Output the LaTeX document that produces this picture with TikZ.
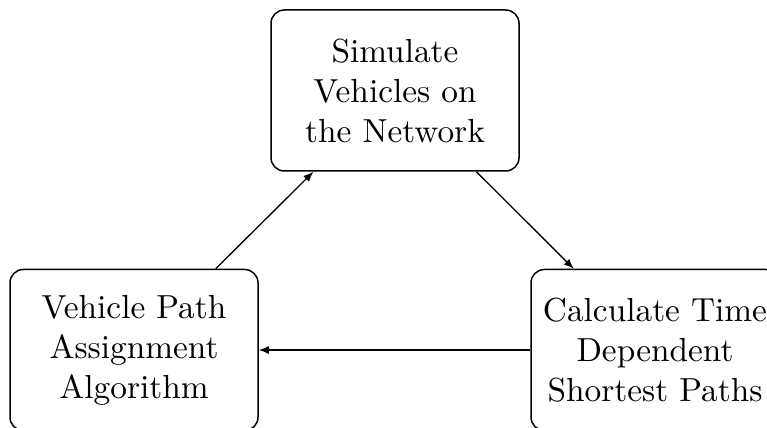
\documentclass[tikz,border=0pt]{standalone}
\usetikzlibrary{arrows.meta}
\begin{document}
\begin{tikzpicture}[
  stage/.style={draw, rounded corners=4pt, align=center, inner sep=0pt,
    minimum width=74.4pt, minimum height=48.3pt, line width=0.45pt},
  flow/.style={-{Latex[length=3pt,width=2.4pt]}, line width=0.4pt}
]
\useasboundingbox (0,0) rectangle (230.1pt,128.4pt);
\node[stage] (sim) at (118.5pt,101.25pt) {Simulate\\Vehicles on\\the Network};
\node[stage] (assign) at (40.2pt,23.4pt) {Vehicle Path\\Assignment\\Algorithm};
\node[stage] (calc) at (196.5pt,23.4pt) {Calculate Time\\Dependent\\Shortest Paths};
\draw[flow] (assign) -- (sim);
\draw[flow] (sim) -- (calc);
\draw[flow] (calc) -- (assign);
\end{tikzpicture}
\end{document}
